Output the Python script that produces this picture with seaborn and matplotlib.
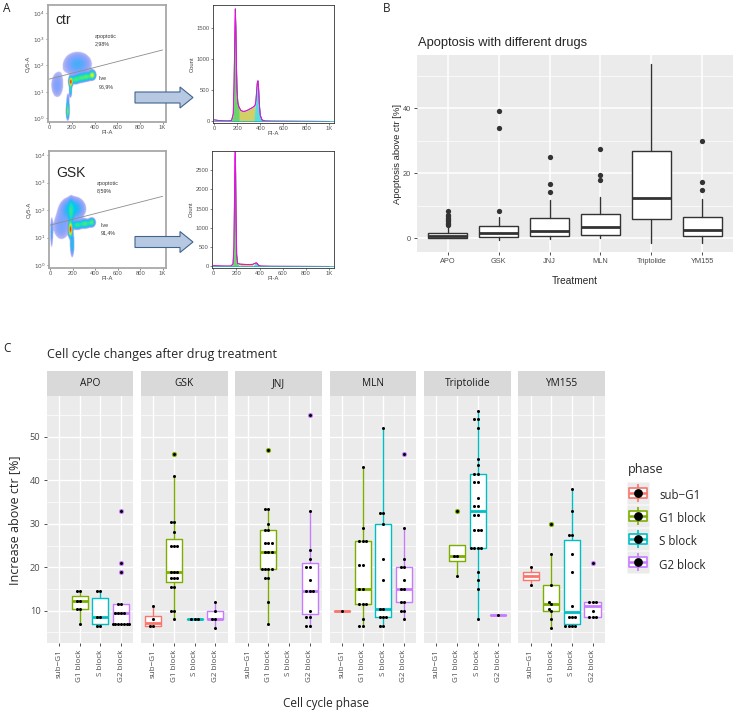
import numpy as np
import pandas as pd
import matplotlib
matplotlib.use("Agg")
import matplotlib.pyplot as plt
import seaborn as sns
from matplotlib.colors import LinearSegmentedColormap
from matplotlib.lines import Line2D
from matplotlib.legend_handler import HandlerTuple
from matplotlib.patches import Polygon
from matplotlib.path import Path

sns.set_theme(style="darkgrid")
plt.rcParams['font.family'] = ['Open Sans', 'DejaVu Sans']

W, H = 737, 713

# ---------------- panel A: flow cytometry ----------------
# populations: PI-A centre, log10 Cy5-A centre, spreads, weight
ctr_pop_x = [190, 230, 280, 330, 380, 188, 163, 165, 250, 70]
ctr_pop_y = [1.38, 1.46, 1.52, 1.57, 1.63, 1.1, 0.25, 0.6, 2.05, 1.25]
ctr_pop_sx = [8, 20, 22, 22, 14, 6, 7, 8, 80, 40]
ctr_pop_sy = [0.08, 0.08, 0.08, 0.08, 0.08, 0.15, 0.15, 0.2, 0.3, 0.35]
ctr_pop_w = [1.0, 0.18, 0.17, 0.2, 0.4, 0.15, 0.25, 0.05, 0.045, 0.03]

gsk_pop_x = [180, 240, 310, 370, 185, 195, 200, 12, 100]
gsk_pop_y = [1.3, 1.45, 1.5, 1.55, 1.9, 0.75, 2.05, 1.15, 1.4]
gsk_pop_sx = [8, 24, 26, 16, 12, 10, 65, 6, 55]
gsk_pop_sy = [0.12, 0.08, 0.08, 0.08, 0.25, 0.25, 0.25, 0.3, 0.35]
gsk_pop_w = [1.0, 0.15, 0.18, 0.2, 0.1, 0.08, 0.07, 0.05, 0.03]

hist_x_ctr = [0, 40, 80, 120, 150, 165, 172, 178, 183, 188, 193, 198, 205, 215, 230, 250, 270,
              290, 310, 330, 345, 355, 362, 368, 374, 380, 386, 392, 400, 415, 440, 500, 700, 1000]
hist_y_ctr = [25, 15, 10, 8, 15, 120, 600, 1300, 1800, 1500, 900, 500, 300, 230, 180, 160, 165,
              180, 200, 220, 240, 260, 330, 480, 620, 650, 520, 280, 100, 25, 8, 5, 3, 0]
hist_x_gsk = [0, 40, 100, 150, 170, 178, 183, 187, 190, 193, 197, 202, 210, 230, 260, 300, 340,
              360, 370, 378, 390, 410, 500, 1000]
hist_y_gsk = [20, 15, 10, 10, 60, 500, 1800, 2800, 3000, 2400, 1200, 300, 80, 60, 55, 50, 55,
              80, 95, 80, 30, 10, 5, 0]

# ---------------- panel B: apoptosis boxplot summary ----------------
treat_b = ['APO', 'GSK', 'JNJ', 'MLN', 'Triptolide', 'YM155']
b_q1 = [0.0, 0.4, 0.7, 0.9, 6.0, 0.7]
b_med = [0.6, 1.7, 2.3, 3.3, 12.3, 2.4]
b_q3 = [1.6, 3.6, 6.1, 7.4, 27.0, 6.4]
b_lo = [0.0, -0.6, -0.4, 0.0, -1.5, -1.4]
b_hi = [3.4, 6.4, 11.8, 12.6, 53.7, 12.2]
b_out = [[8.4, 7.2, 6.8, 6.3, 6.0, 5.6, 5.2, 4.8, 4.4, 4.0], [8.4, 34.1, 39.3],
         [14.3, 16.6, 24.9], [17.9, 19.5, 27.4], [], [14.8, 17.2, 29.8]]

# ---------------- panel C: cell cycle changes ----------------
phases = ['sub-G1', 'G1 block', 'S block', 'G2 block']
phase_lbl = ['sub\u2212G1', 'G1 block', 'S block', 'G2 block']
phase_cols = ['#F8766D', '#7CAE00', '#00BFC4', '#C77CFF']
treat_c = ['APO', 'GSK', 'JNJ', 'MLN', 'Triptolide', 'YM155']

apo = {'sub-G1': [], 'G1 block': [14.5, 14.5, 12.2, 12.2, 10.4, 10.4, 7],
       'S block': [14.5, 14.5, 8.5, 8.5, 6.5, 6.5],
       'G2 block': [33, 21, 19, 11.5, 11.5, 9.5, 9.5, 9.5, 9.5, 7, 7, 7, 7, 7, 7, 7]}
gsk = {'sub-G1': [11, 8, 6.5, 6.5],
       'G1 block': [46, 41, 30.5, 30.5, 28, 25, 25, 25, 19, 19, 19, 17.5, 17.5, 17.5, 15.5, 15.5, 10, 10, 8],
       'S block': [8, 8, 8], 'G2 block': [12, 10, 8, 8, 6]}
jnj = {'sub-G1': [],
       'G1 block': [47, 33.5, 33.5, 30, 28.5, 28.5, 25.5, 25.5, 25.5, 23.5, 23.5, 23.5,
                    19.5, 19.5, 19.5, 19.5, 17.5, 17.5, 12, 7],
       'S block': [],
       'G2 block': [55, 33, 24, 22, 20, 20, 17, 14.5, 14.5, 14.5, 10, 8.5, 8.5, 6.5, 6.5]}
mln = {'sub-G1': [10],
       'G1 block': [43, 29, 26, 26, 26, 20.5, 20.5, 15, 15, 11.5, 11.5, 11.5, 8, 6.5, 6.5],
       'S block': [52, 32.5, 32.5, 30, 22, 17, 10.5, 10.5, 8.5, 8.5, 8.5, 6.5, 6.5],
       'G2 block': [46, 29, 22, 20, 20, 17, 15, 15, 12, 12, 10, 10, 8]}
trip = {'sub-G1': [], 'G1 block': [33, 22.5, 22.5, 18],
        'S block': [56, 54, 54, 52, 45, 43.5, 41.5, 41.5, 39.5, 39.5, 36, 34, 34, 32, 32,
                    28.5, 28.5, 28.5, 24.5, 24.5, 24.5, 24.5, 19, 17, 15, 8],
        'G2 block': [9]}
ym = {'sub-G1': [20, 16], 'G1 block': [30, 23, 16, 12, 11.5, 10.5, 10, 8, 6],
      'S block': [38, 33, 27.5, 27.5, 23, 19, 11, 8.5, 8.5, 8.5, 6.5, 6.5, 6.5, 6.5],
      'G2 block': [21, 12, 12, 12, 10, 8.5, 8.5, 8.5]}
c_data = [apo, gsk, jnj, mln, trip, ym]

rows = []
for t, d in zip(treat_c, c_data):
    for p in phases:
        for v in d[p]:
            rows.append((t, p, v))
df_c = pd.DataFrame(rows, columns=['treatment', 'phase', 'value'])


def pbox(l, t, r, b):
    return [l / W, 1 - b / H, (r - l) / W, (b - t) / H]


fig = plt.figure(figsize=(W / 100, H / 100), dpi=100)
fig.patch.set_facecolor('white')

fontA = ['Liberation Sans', 'DejaVu Sans']
grey_txt = '#4D4D4D'

flow_cmap = LinearSegmentedColormap.from_list(
    'flow', ['#2323E0', '#3A7BFF', '#00D0F0', '#40E880', '#F0F020', '#FF2000'])


def draw_dotplot(rect, px, py, sx, sy, w, ylim, gate, name, name_pos, txt):
    ax = fig.add_axes(rect)
    ax.set_facecolor('white')
    ax.grid(False)
    gx = np.linspace(-10, 1030, 320)
    gy = np.linspace(ylim[0], ylim[1], 320)
    X, Y = np.meshgrid(gx, gy)
    d = np.zeros_like(X)
    for cx, cy, a, b, wt in zip(px, py, sx, sy, w):
        d += wt * np.exp(-0.5 * (((X - cx) / a) ** 2 + ((Y - cy) / b) ** 2))
    d = d / d.max()
    ld = np.log10(np.maximum(d, 1e-9))
    lo = -1.9
    rgba = flow_cmap(np.clip((ld - lo) / -lo, 0, 1))
    alpha = np.clip((ld - lo) / 0.7, 0, 1) * 0.7 + 0.3
    alpha[ld < lo] = 0
    rgba[..., 3] = alpha
    ax.imshow(rgba, origin='lower', extent=[gx[0], gx[-1], gy[0], gy[-1]], aspect='auto',
              interpolation='bilinear')
    ax.plot([0, 1000], gate, color='#8C8C8C', lw=0.6)
    ax.set_xlim(-10, 1030)
    ax.set_ylim(*ylim)
    ax.set_xticks([0, 200, 400, 600, 800, 1000], ['0', '200', '400', '600', '800', '1K'])
    ax.set_yticks([0, 1, 2, 3, 4], ['$10^{%d}$' % k for k in range(5)])
    ax.tick_params(labelsize=4.2, length=1.5, width=0.5, pad=1, colors='#555555',
                   bottom=True, left=True)
    for lab in ax.get_xticklabels() + ax.get_yticklabels():
        lab.set_family(fontA)
    ax.set_xlabel('PI-A', fontsize=4.2, labelpad=0, family=fontA, color='#444444')
    ax.set_ylabel('Cy5-A', fontsize=4.2, labelpad=1, family=fontA, color='#444444')
    for s in ax.spines.values():
        s.set_visible(True)
        s.set_color('#A8A8A8')
        s.set_linewidth(1.3)
    ax.text(name_pos[0], name_pos[1], name, fontsize=10, family=fontA, va='center')
    for (tx, ty, s) in txt:
        ax.text(tx, ty, s, fontsize=3.8, family=fontA, color='#333333', va='center')
    return ax


def draw_hist(rect, hx, hy, ylim, yt):
    ax = fig.add_axes(rect)
    ax.set_facecolor('white')
    ax.grid(False)
    hx = np.array(hx)
    hy = np.array(hy)
    ax.fill_between(hx, 0, hy, where=(hx >= 150) & (hx <= 215), color='#6CD46C', lw=0, interpolate=True)
    ax.fill_between(hx, 0, hy, where=(hx >= 215) & (hx <= 355), color='#D2CF66', lw=0, interpolate=True)
    ax.fill_between(hx, 0, hy, where=(hx >= 355) & (hx <= 420), color='#5ADCDC', lw=0, interpolate=True)
    ax.plot(hx, hy, color='#555555', lw=0.7)
    ax.plot(hx, hy, color='#FF00FF', lw=0.6)
    ax.axhline(0, color='#2AB3B3', lw=0.6)
    ax.set_xlim(-11, 1041)
    ax.set_ylim(*ylim)
    ax.set_xticks([0, 200, 400, 600, 800, 1000], ['0', '200', '400', '600', '800', '1K'])
    ax.set_yticks(yt)
    ax.tick_params(labelsize=4.2, length=1.5, width=0.5, pad=1, colors='#555555',
                   bottom=True, left=True)
    for lab in ax.get_xticklabels() + ax.get_yticklabels():
        lab.set_family(fontA)
    ax.set_xlabel('PI-A', fontsize=4.2, labelpad=0, family=fontA, color='#444444')
    ax.set_ylabel('Count', fontsize=4.2, labelpad=1, family=fontA, color='#444444')
    for s in ax.spines.values():
        s.set_visible(True)
        s.set_color('#333333')
        s.set_linewidth(0.6)
    return ax


draw_dotplot(pbox(48, 5, 166, 122), ctr_pop_x, ctr_pop_y, ctr_pop_sx, ctr_pop_sy, ctr_pop_w,
             (-0.15, 4.3), [1.48, 2.59], 'ctr', (53, 3.73),
             [(403, 3.09, 'apoptotic'), (403, 2.82, '2,98%'), (439, 1.49, 'live'), (439, 1.18, '96,9%')])
draw_dotplot(pbox(49, 151, 166, 268), gsk_pop_x, gsk_pop_y, gsk_pop_sx, gsk_pop_sy, gsk_pop_w,
             (-0.11, 4.15), [1.45, 2.5], 'GSK', (53, 3.35),
             [(412, 2.98, 'apoptotic'), (412, 2.69, '8,59%'), (447, 1.45, 'live'), (447, 1.16, '91,4%')])
draw_hist(pbox(213, 5, 334, 123), hist_x_ctr, hist_y_ctr, (-25, 1862), [0, 500, 1000, 1500])
draw_hist(pbox(212, 151, 334, 268), hist_x_gsk, hist_y_gsk, (-40, 2990), [0, 500, 1000, 1500, 2000, 2500])

# overlay in pixel units for the block arrows (drawn on top of the dot plots)
ov = fig.add_axes([0, 0, 1, 1], zorder=10)
ov.patch.set_alpha(0)
ov.set_xlim(0, W)
ov.set_ylim(H, 0)
ov.axis('off')
for yc in (97.5, 242):
    arrow = Polygon([(135, yc - 5.5), (180, yc - 5.5), (180, yc - 10.5), (193, yc),
                     (180, yc + 10.5), (180, yc + 5.5), (135, yc + 5.5)],
                    closed=True, facecolor='#B7C9E2', edgecolor='#41648C', lw=0.8)
    ov.add_patch(arrow)

fig.text(3 / W, 1 - 9 / H, 'A', fontsize=8.5, va='center', color='#222222')

# ---------------- panel B ----------------
ax_b = fig.add_axes(pbox(417, 55, 733, 252))
stats = [dict(med=m, q1=a, q3=b, whislo=lo, whishi=hi, fliers=f, label=t)
         for t, a, m, b, lo, hi, f in zip(treat_b, b_q1, b_med, b_q3, b_lo, b_hi, b_out)]
ax_b.bxp(stats, positions=range(len(treat_b)), widths=0.75, patch_artist=True, showcaps=False,
         boxprops=dict(facecolor='white', edgecolor='#333333', linewidth=1.0),
         medianprops=dict(color='#333333', linewidth=2.0),
         whiskerprops=dict(color='#333333', linewidth=1.0),
         flierprops=dict(marker='o', markerfacecolor='#333333', markeredgecolor='none', markersize=3.8),
         zorder=3)
ax_b.set_facecolor('#EBEBEB')
ax_b.set_xlim(-0.6, 5.6)
ax_b.set_ylim(-4.26, 56.46)
ax_b.set_yticks([0, 20, 40])
ax_b.set_yticks([10, 30, 50], minor=True)
ax_b.set_xticks(range(len(treat_b)), treat_b)
ax_b.grid(True, which='major', color='white', lw=1.1)
ax_b.grid(True, which='minor', axis='y', color='white', lw=0.5)
ax_b.set_axisbelow(True)
for s in ax_b.spines.values():
    s.set_visible(False)
ax_b.tick_params(which='major', labelsize=5.3, labelcolor=grey_txt, length=2.5, width=0.6,
                 color='#333333', pad=2, bottom=True, left=True)
ax_b.tick_params(which='minor', length=0)
for lab in ax_b.get_xticklabels() + ax_b.get_yticklabels():
    lab.set_family(fontA)
fig.text(383 / W, 1 - 8 / H, 'B', fontsize=8.5, va='center', color='#222222')
fig.text(418 / W, 1 - 43 / H, 'Apoptosis with different drugs', fontsize=9.3, va='center', family=fontA)
fig.text(397 / W, 1 - 153.5 / H, 'Apoptosis above ctr [%]', fontsize=6.8, va='center', ha='center',
         rotation=90, family=fontA)
fig.text(575 / W, 1 - 281 / H, 'Treatment', fontsize=7.3, va='center', ha='center', family=fontA)

# ---------------- panel C ----------------
fac_left = 46.7
fac_w = 86.7
fac_step = 94.3
top_c, bot_c = 396, 643.3
for i, t in enumerate(treat_c):
    l = fac_left + i * fac_step
    ax = fig.add_axes(pbox(l, top_c, l + fac_w, bot_c))
    sub = df_c[df_c['treatment'] == t]
    sns.boxplot(data=sub, x='phase', y='value', order=phases, color='white', linecolor='white',
                linewidth=0.1, width=0.78, showfliers=False, ax=ax)
    sns.boxplot(data=sub, x='phase', y='value', order=phases, hue='phase', hue_order=phases,
                palette=phase_cols, fill=False, linewidth=1.0, width=0.78, showfliers=False,
                showcaps=False, medianprops=dict(linewidth=2.0), legend=False, ax=ax)
    for j, p in enumerate(phases):
        v = np.array(c_data[i][p], dtype=float)
        if len(v) < 2:
            continue
        q1, q3 = np.percentile(v, [25, 75])
        iqr = q3 - q1
        out = v[(v > q3 + 1.5 * iqr) | (v < q1 - 1.5 * iqr)]
        ax.scatter(np.full(len(out), j), out, s=14, color=phase_cols[j], zorder=3, linewidths=0)
    sns.swarmplot(data=sub, x='phase', y='value', order=phases, color='black', size=2.2,
                  ax=ax, zorder=4, warn_thresh=1)
    ax.set_facecolor('#EBEBEB')
    ax.set_xlim(-0.6, 3.6)
    ax.set_ylim(2.5, 59.4)
    ax.set_yticks([10, 20, 30, 40, 50])
    ax.set_yticks([5, 15, 25, 35, 45, 55], minor=True)
    ax.grid(True, which='major', color='white', lw=1.0)
    ax.grid(True, which='minor', axis='y', color='white', lw=0.5)
    ax.set_axisbelow(True)
    for s in ax.spines.values():
        s.set_visible(False)
    ax.set_xticks(range(4), phase_lbl, rotation=90)
    ax.set_xlabel('')
    ax.set_ylabel('')
    ax.tick_params(axis='x', labelsize=5.8, labelcolor=grey_txt, length=2.5, width=0.6,
                   color='#333333', pad=2, bottom=True)
    ax.tick_params(which='minor', length=0)
    if i == 0:
        ax.tick_params(axis='y', labelsize=6.7, labelcolor=grey_txt, length=2.5, width=0.6,
                       color='#333333', pad=2, left=True)
    else:
        ax.tick_params(axis='y', labelleft=False, left=False)
    # strip
    sx = fig.add_axes(pbox(l, 371, l + fac_w, top_c))
    sx.set_facecolor('#D9D9D9')
    sx.set_xticks([])
    sx.set_yticks([])
    sx.grid(False)
    for s in sx.spines.values():
        s.set_visible(False)
    sx.text(0.5, 0.5, t, transform=sx.transAxes, ha='center', va='center', fontsize=7.3,
            color='#1A1A1A')

fig.text(3 / W, 1 - 348 / H, 'C', fontsize=8.5, va='center', color='#222222')
fig.text(47 / W, 1 - 354 / H, 'Cell cycle changes after drug treatment', fontsize=9, va='center')
fig.text(15 / W, 1 - 520 / H, 'Increase above ctr [%]', fontsize=9, va='center', ha='center', rotation=90)
fig.text(326 / W, 1 - 704 / H, 'Cell cycle phase', fontsize=8.5, va='center', ha='center')

# legend for phase (boxplot key: wide box, whiskers, median, dot)
rect_marker = Path([(-1, -0.6), (1, -0.6), (1, 0.6), (-1, 0.6), (-1, -0.6)],
                   [Path.MOVETO, Path.LINETO, Path.LINETO, Path.LINETO, Path.CLOSEPOLY])
handles = []
for c in phase_cols:
    bg = Line2D([], [], marker='s', markersize=16, markerfacecolor='#EBEBEB', markeredgecolor='none', ls='')
    wh = Line2D([], [], marker='|', markersize=13, markeredgecolor=c, markeredgewidth=1.2, ls='')
    bx = Line2D([], [], marker=rect_marker, markersize=13, markerfacecolor='white', markeredgecolor=c,
                markeredgewidth=1.2, ls='')
    md = Line2D([], [], marker='_', markersize=13, markeredgecolor=c, markeredgewidth=1.8, ls='')
    dt = Line2D([], [], marker='o', markersize=5.3, markerfacecolor='black', markeredgecolor='black', ls='')
    handles.append((bg, wh, bx, md, dt))
fig.text(628 / W, 1 - 469 / H, 'phase', fontsize=9, va='center')
fig.legend(handles, phase_lbl, handler_map={tuple: HandlerTuple(ndivide=1, pad=0)},
           loc='upper left', bbox_to_anchor=(629 / W, 1 - 486 / H), frameon=False,
           fontsize=8.3, handlelength=1.6, handleheight=2.2, numpoints=1,
           labelspacing=0.33, handletextpad=1.0, borderaxespad=0, borderpad=0)

fig.savefig('out.png', dpi=100)
